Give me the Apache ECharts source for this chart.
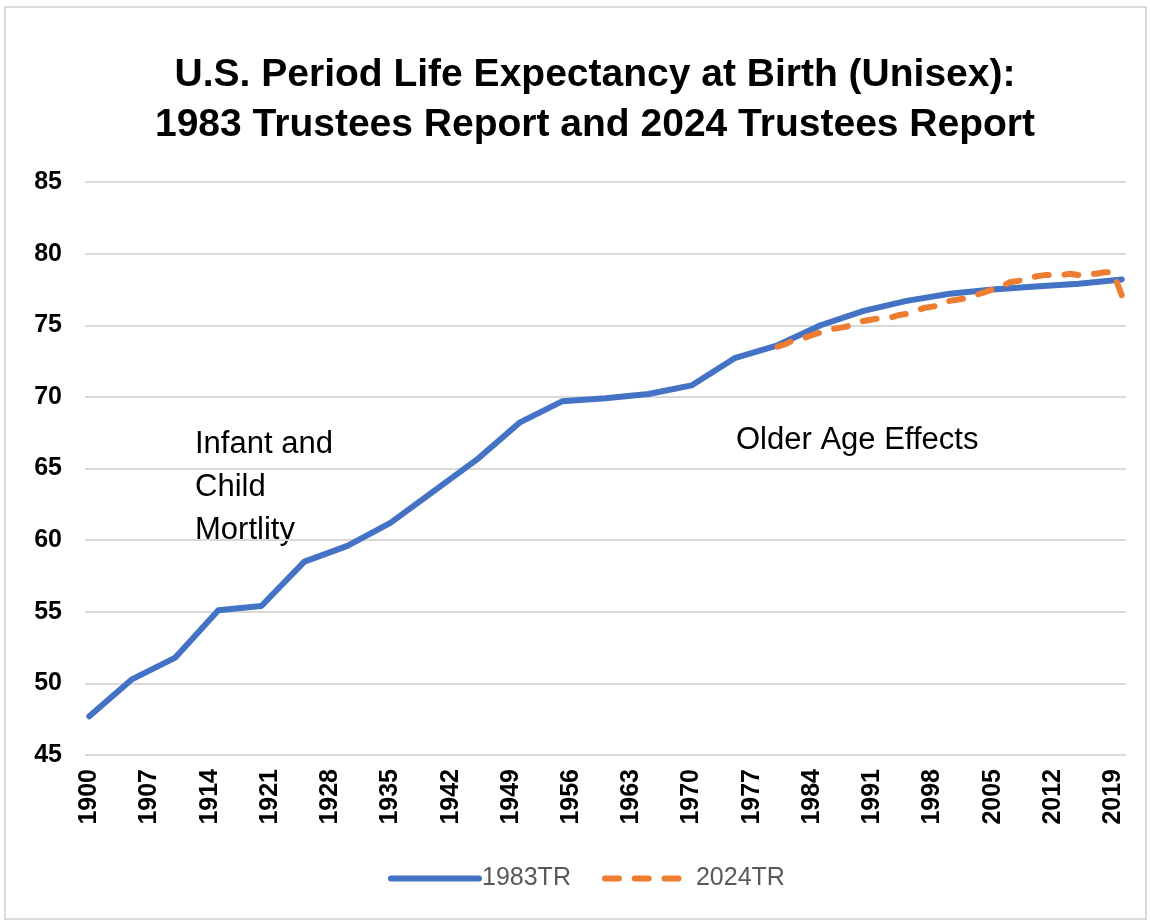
<!DOCTYPE html>
<html>
<head>
<meta charset="utf-8">
<script src="https://cdn.jsdelivr.net/npm/echarts@6/dist/echarts.min.js"></script>
<style>
html,body{margin:0;padding:0;background:#fff;}
#chart{width:1150px;height:923px;}
</style>
</head>
<body>
<div id="chart"></div>
<script>
// Categories: years 1900..2020
const years = [];
for (let y = 1900; y <= 2020; y++) years.push(String(y));

// 1983 Trustees Report (read at 5-year points)
const tr1983Years = [1900,1905,1910,1915,1920,1925,1930,1935,1940,1945,1950,1955,1960,1965,1970,1975,1980,1985,1990,1995,2000,2005,2010,2015,2020];
const tr1983Values = [47.7,50.3,51.8,55.1,55.4,58.5,59.6,61.2,63.4,65.6,68.2,69.7,69.9,70.2,70.8,72.7,73.6,75.0,76.0,76.7,77.2,77.5,77.7,77.9,78.2];

// 2024 Trustees Report (yearly, 1980..2020)
const tr2024Years = [1980,1981,1982,1983,1984,1985,1986,1987,1988,1989,1990,1991,1992,1993,1994,1995,1996,1997,1998,1999,2000,2001,2002,2003,2004,2005,2006,2007,2008,2009,2010,2011,2012,2013,2014,2015,2016,2017,2018,2019,2020];
const tr2024Values = [73.5,73.7,74.0,74.1,74.3,74.5,74.7,74.8,74.9,75.1,75.3,75.4,75.5,75.5,75.7,75.8,76.0,76.2,76.3,76.4,76.7,76.8,76.9,77.1,77.3,77.5,77.7,78.0,78.1,78.3,78.4,78.5,78.5,78.5,78.6,78.5,78.6,78.6,78.7,78.7,77.1];

const yTicks = {min: 45, max: 85, interval: 5};

const titleLines = ['U.S. Period Life Expectancy at Birth (Unisex):', '1983 Trustees Report and 2024 Trustees Report'];
const noteLeft = ['Infant and', 'Child', 'Mortlity'];
const noteRight = 'Older Age Effects';

const FONT = 'Liberation Sans';
const DASH = 14, PERIOD = 31;

const chart = echarts.init(document.getElementById('chart'), null, {renderer: 'canvas'});

const option = {
  backgroundColor: '#ffffff',
  animation: false,
  title: {
    text: titleLines.join('\n'),
    left: 590,
    top: 45,
    textAlign: 'center',
    textStyle: {fontFamily: FONT, fontWeight: 'bold', fontSize: 39, lineHeight: 50, color: '#000000'}
  },
  grid: {left: 85, right: 24, top: 182, bottom: 168, containLabel: false},
  legend: {
    bottom: 27,
    left: 383,
    itemWidth: 88,
    itemHeight: 14,
    itemGap: 31,
    itemStyle: {opacity: 0},
    lineStyle: {width: 6, cap: 'round'},
    textStyle: {fontFamily: FONT, fontSize: 25, color: '#595959', padding: [0,0,0,-2]},
    data: ['1983TR', '2024TR']
  },
  xAxis: {
    type: 'category',
    data: years,
    boundaryGap: true,
    axisLine: {show: false},
    axisTick: {show: false},
    axisLabel: {
      interval: 6,
      rotate: 90,
      margin: 14,
      fontFamily: FONT,
      fontWeight: 'bold',
      fontSize: 25,
      color: '#000000'
    },
    splitLine: {show: false}
  },
  yAxis: {
    type: 'value',
    min: yTicks.min,
    max: yTicks.max,
    interval: yTicks.interval,
    axisLine: {show: false},
    axisTick: {show: false},
    axisLabel: {margin: 23, fontFamily: FONT, fontWeight: 'bold', fontSize: 25, color: '#000000'},
    splitLine: {lineStyle: {color: '#d9d9d9', width: 2}}
  },
  series: [
    {
      name: '1983TR',
      type: 'line',
      data: tr1983Years.map((y, i) => [String(y), tr1983Values[i]]),
      symbol: 'none',
      lineStyle: {color: '#4472C4', width: 6, cap: 'round', join: 'round'},
      itemStyle: {color: '#4472C4'},
      z: 2
    },
    {
      name: '2024TR',
      type: 'line',
      data: tr2024Years.map((y, i) => [String(y), tr2024Values[i]]),
      symbol: 'none',
      lineStyle: {color: '#ED7D31', width: 6, type: [DASH, PERIOD - DASH], cap: 'round', join: 'round'},
      itemStyle: {color: '#ED7D31'},
      z: 3
    }
  ],
  graphic: [
    {type: 'rect', shape: {x: 5, y: 7, width: 1141, height: 912}, style: {fill: 'none', stroke: '#d9d9d9', lineWidth: 2}, silent: true, z: -10},
    {type: 'text', left: 195, top: 423, style: {text: noteLeft.join('\n'), fontFamily: FONT, fontSize: 31, lineHeight: 43, fill: '#000000'}},
    {type: 'text', left: 736, top: 419, style: {text: noteRight, fontFamily: FONT, fontSize: 31, lineHeight: 43, fill: '#000000'}}
  ]
};
chart.setOption(option);

// Fit the dash period so the dashed line both starts and ends on a dash (style only).
const pts = tr2024Years.map((y, i) => chart.convertToPixel({gridIndex: 0}, [years.indexOf(String(y)), tr2024Values[i]]));
let len = 0;
for (let i = 1; i < pts.length; i++) {
  len += Math.hypot(pts[i][0] - pts[i - 1][0], pts[i][1] - pts[i - 1][1]);
}
const n = Math.max(1, Math.round((len - DASH) / PERIOD));
const p = (len - DASH) / n;
chart.setOption({series: [{}, {lineStyle: {type: [DASH, p - DASH]}}]});
</script>
</body>
</html>
